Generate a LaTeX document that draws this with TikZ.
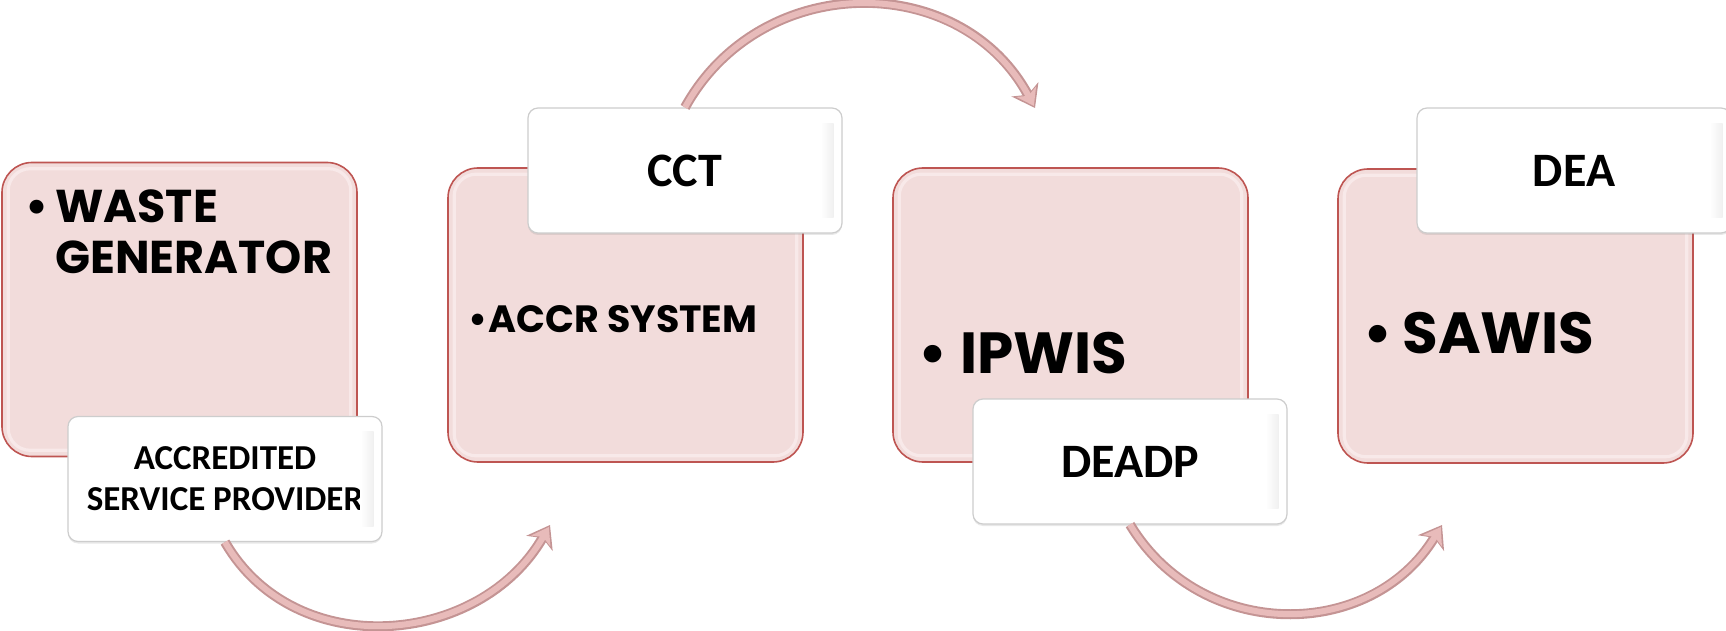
\documentclass[tikz,border=0pt]{standalone}
\usepackage{fontspec}
\newfontfamily\gothic{Poppins}
\newfontfamily\calib{Carlito}
\usetikzlibrary{arrows.meta,shadows}
\definecolor{pinkfill}{RGB}{242,220,219}
\definecolor{pinkline}{RGB}{190,85,82}
\definecolor{pinkrim}{RGB}{248,233,233}
\definecolor{labelline}{RGB}{205,205,205}
\definecolor{arrfill}{RGB}{232,187,186}
\definecolor{arrline}{RGB}{196,148,148}
\begin{document}
\begin{tikzpicture}[x=0.5pt,y=-0.5pt,
  pinkbox/.style={draw=pinkline, line width=0.8pt, fill=pinkfill, rounded corners=15pt,
    minimum width=177.5pt, minimum height=147pt, inner sep=0pt},
  rim/.style={draw=pinkrim, line width=1.6pt, rounded corners=11pt},
  labelbox/.style={draw=labelline, line width=0.6pt, fill=white, rounded corners=5pt,
    minimum width=157pt, minimum height=62.5pt, inner sep=0pt, align=center,
    drop shadow={opacity=0.18, shadow xshift=0pt, shadow yshift=-1pt},
    font=\calib\bfseries\fontsize{24}{28}\selectfont},
  bevel/.style={left color=white, right color=black!6},
  maintext/.style={anchor=base west, inner sep=0pt, align=left, font=\gothic\bfseries},
  arrowouter/.style={draw=arrline, line width=5pt, -{Stealth[length=10.5pt,width=15pt,inset=3pt]}},
  arrowinner/.style={draw=arrfill, line width=3pt, shorten >=1.2pt, -{Stealth[length=8pt,width=11pt,inset=2.3pt]}}
]
\useasboundingbox (0,0) rectangle (1726,631);

% pink boxes
\node[pinkbox] (b1) at (179.5,309.5) {};
\node[pinkbox] (b2) at (625.5,315) {};
\node[pinkbox] (b3) at (1070.5,315) {};
\node[pinkbox] (b4) at (1515.5,316) {};
\foreach \b in {b1,b2,b3,b4}{
  \draw[rim] ([shift={(7,7)}]\b.north west) rectangle ([shift={(-7,-7)}]\b.south east);
}

% main texts (base anchor = baseline of the last line)
\node[maintext, font=\gothic\bfseries\fontsize{23}{25.5}\selectfont] (t1) at (25,273)
  {\makebox[15pt][l]{•}WASTE\\\hspace*{15pt}GENERATOR};
\node[maintext, font=\gothic\bfseries\fontsize{19}{22}\selectfont] (t2) at (468,332)
  {\makebox[10pt][l]{•}ACCR SYSTEM};
\node[maintext, font=\gothic\bfseries\fontsize{29}{32}\selectfont] (t3) at (918,373)
  {\makebox[21pt][l]{•}IPWIS};
\node[maintext, font=\gothic\bfseries\fontsize{29}{32}\selectfont] (t4) at (1363,353)
  {\makebox[19.5pt][l]{•}SAWIS};

% labels
\node[labelbox, font=\calib\bfseries\fontsize{17.5}{20.5}\selectfont] (l1) at (225,479)
  {ACCREDITED\\SERVICE PROVIDER};
\node[labelbox] (l2) at (685,170.5) {CCT};
\node[labelbox] (l3) at (1130,461.5) {DEADP};
\node[labelbox] (l4) at (1574,170.5) {DEA};
\foreach \l in {l1,l2,l3,l4}{
  \shade[bevel] ([shift={(-22,16)}]\l.north east) rectangle ([shift={(-9,-16)}]\l.south east);
}

% arrow end points
\coordinate (e1) at (550,525);
\coordinate (e2) at (1035,108);
\coordinate (e3) at (1442,525);

% arrows
\draw[arrowouter] (l1.south) .. controls (295,663) and (480,647) .. (e1);
\draw[arrowinner] (l1.south) .. controls (295,663) and (480,647) .. (e1);
\draw[arrowouter] (l2.north) .. controls (761,-30) and (961,-30) .. (e2);
\draw[arrowinner] (l2.north) .. controls (761,-30) and (961,-30) .. (e2);
\draw[arrowouter] (l3.south) .. controls (1201,642) and (1371,642) .. (e3);
\draw[arrowinner] (l3.south) .. controls (1201,642) and (1371,642) .. (e3);
\end{tikzpicture}
\end{document}
